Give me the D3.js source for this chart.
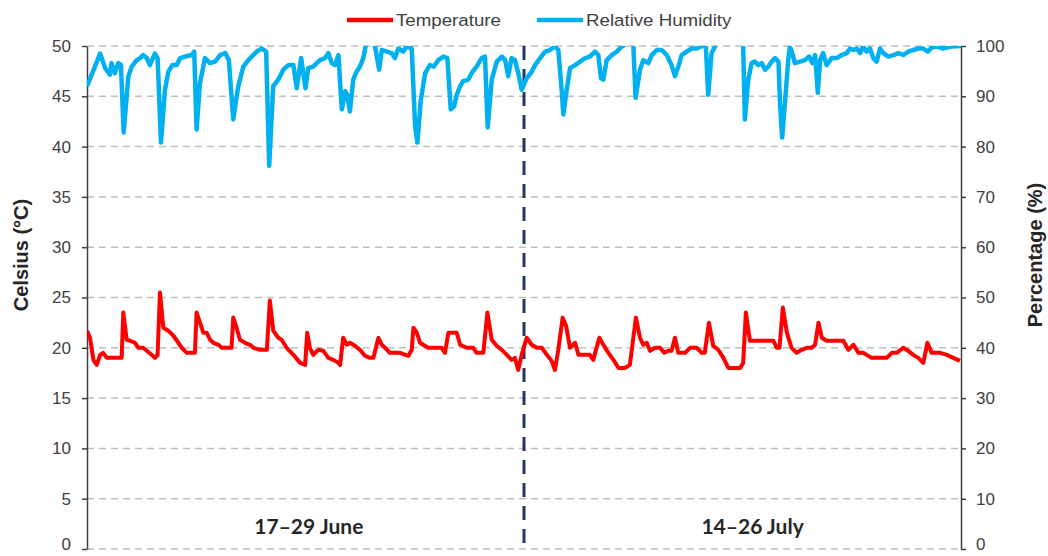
<!DOCTYPE html>
<html>
<head>
<meta charset="utf-8">
<script src="https://cdn.jsdelivr.net/npm/d3@7"></script>
<style>
  html, body { margin:0; padding:0; background:#fff; }
  svg { display:block; }
  .tick-lbl { font: 17px "Liberation Sans", Arial, sans-serif; fill:#404040; }
  .ax-title { font: bold 20px "Liberation Sans", Arial, sans-serif; fill:#262626; }
  .legend   { font: 17px "Liberation Sans", Arial, sans-serif; fill:#404040; }
  .period   { font: bold 21px Lato, "Open Sans", sans-serif; fill:#262626; }
</style>
</head>
<body>
<svg id="chart" width="1048" height="556"></svg>
<script>
(function(){
'use strict';

/* ------------------------------------------------------------------ data */
// Time runs in days from the first reading; the two logging periods
// (13 days each) are placed back to back, July starting at day 13.
var SERIES  = ['Temperature', 'Relative Humidity'];
var PERIODS = ['17–29 June', '14–26 July'];
var CELSIUS_TICKS = [0, 5, 10, 15, 20, 25, 30, 35, 40, 45, 50];
var PERCENT_TICKS = [0, 10, 20, 30, 40, 50, 60, 70, 80, 90, 100];

// [day, °C]
var TEMPERATURE = [
  [0,21.7],[0.09,21],[0.19,18.8],[0.29,18.3],[0.39,19.3],[0.48,19.5],[0.59,19],[1.03,19],
  [1.08,23.5],[1.18,20.8],[1.28,20.7],[1.43,20.5],[1.53,20],[1.67,20],[1.78,19.7],[1.92,19.3],
  [2.02,19],[2.10,19.3],[2.17,25.5],[2.27,22],[2.42,21.7],[2.57,21.2],[2.72,20.5],[2.82,20],
  [2.97,19.5],[3.21,19.5],[3.26,23.5],[3.36,22.5],[3.46,21.5],[3.56,21.5],[3.66,20.8],[3.76,20.5],
  [3.91,20.3],[4.01,20],[4.30,20],[4.35,23],[4.45,22],[4.55,20.8],[4.70,20.5],[4.85,20.3],
  [4.95,20],[5.15,19.8],[5.35,19.8],[5.44,24.7],[5.54,21.7],[5.69,21],[5.79,20.8],[5.94,20],
  [6.14,19.3],[6.34,18.5],[6.49,18.3],[6.55,21.5],[6.63,20],[6.73,19.3],[6.88,19.8],[7.03,19.7],
  [7.18,19],[7.33,18.8],[7.48,18.5],[7.53,18.3],[7.62,21],[7.73,20.3],[7.82,20.5],[7.97,20.2],
  [8.12,19.8],[8.27,19.2],[8.42,19],[8.52,19],[8.67,21],[8.77,20.3],[8.87,20],[9.01,19.5],
  [9.31,19.5],[9.56,19.2],[9.66,19.8],[9.71,22],[9.81,21.5],[9.91,20.5],[10.00,20.3],[10.15,20],
  [10.55,20],[10.65,19.5],[10.75,21.5],[11.00,21.5],[11.10,20.3],[11.30,20],[11.49,20],[11.59,19.5],
  [11.79,19.5],[11.91,23.5],[12.04,20.8],[12.19,20.2],[12.34,19.8],[12.49,19.3],[12.63,18.8],[12.73,19],
  [12.83,17.8],[12.93,19.3],
  [13.08,21],[13.23,20.3],[13.38,20],[13.53,20],[13.68,19.3],[13.82,18.7],[13.92,17.8],[14.02,19.8],
  [14.15,23],[14.25,22.2],[14.37,20],[14.52,20.5],[14.62,19.3],[14.96,19.3],[15.06,18.8],[15.24,21],
  [15.36,20.3],[15.51,19.5],[15.66,18.8],[15.81,18],[16.00,18],[16.15,18.3],[16.33,23],[16.45,21],
  [16.55,20.3],[16.65,20.5],[16.75,19.7],[16.90,20],[17.05,20],[17.17,19.5],[17.29,19.7],[17.39,19.7],
  [17.49,21],[17.59,19.5],[17.79,19.5],[17.94,20],[18.14,20],[18.29,19.5],[18.38,19.5],[18.50,22.5],
  [18.63,20.2],[18.78,19.8],[18.93,19],[19.08,18],[19.43,18],[19.52,18.5],[19.60,23.5],[19.72,20.7],
  [20.42,20.7],[20.52,20],[20.60,20],[20.70,24],[20.82,21.5],[20.96,20],[21.11,19.5],[21.26,19.8],
  [21.41,20],[21.56,20],[21.66,20.3],[21.76,22.5],[21.86,21],[22.00,20.7],[22.50,20.7],[22.65,19.8],
  [22.80,20.3],[22.95,19.5],[23.09,19.5],[23.34,19],[23.79,19],[23.94,19.5],[24.09,19.5],[24.28,20],
  [24.43,19.7],[24.58,19.3],[24.73,19],[24.88,18.5],[25.00,20.5],[25.13,19.5],[25.38,19.5],[25.58,19.3],
  [25.77,19],[25.97,18.7]
];

// [day, %]. Readings above 100 are cut by the plot edge, as in the original.
var HUMIDITY = [
  [0,92],[0.39,98.5],[0.54,95.6],[0.68,94.3],[0.73,96.6],[0.83,94.6],[0.93,96.6],[1.01,96.2],
  [1.09,82.8],[1.23,94],[1.33,95.9],[1.48,97.2],[1.58,97.6],[1.67,98.2],[1.78,97.6],[1.87,96.2],
  [2.02,98.5],[2.10,97.6],[2.20,80.8],[2.32,91.3],[2.42,94.9],[2.54,96.2],[2.67,96.2],[2.77,97.6],
  [2.92,97.9],[3.11,98.2],[3.19,98.9],[3.26,83.4],[3.36,92.6],[3.51,97.6],[3.66,96.6],[3.81,96.9],
  [3.96,98.2],[4.11,98.6],[4.22,97.2],[4.35,85.4],[4.50,92],[4.65,95.9],[4.80,97.2],[4.90,97.9],
  [5.05,98.9],[5.20,99.5],[5.33,98.9],[5.42,76.2],[5.54,92],[5.69,93.3],[5.84,95.3],[5.99,96.2],
  [6.14,96.2],[6.24,91.6],[6.37,97.6],[6.50,91.6],[6.58,95.6],[6.73,95.9],[6.93,97.2],[7.08,97.6],
  [7.18,98.6],[7.28,96.6],[7.38,96.2],[7.48,98.2],[7.58,87.4],[7.68,91],[7.74,90.3],[7.82,87],
  [7.92,93.3],[8.02,94.9],[8.12,95.9],[8.22,97.6],[8.32,101],[8.47,101],[8.57,99.9],[8.69,95.3],
  [8.77,99.2],[8.92,98.9],[9.06,98.6],[9.16,97.6],[9.26,99.5],[9.41,98.9],[9.51,99.9],[9.66,99.5],
  [9.76,84.1],[9.83,80.8],[9.93,89.3],[10.06,94.6],[10.20,96.2],[10.32,95.9],[10.45,97.2],[10.60,97.9],
  [10.72,97.6],[10.82,87.4],[10.92,88],[11.00,90.3],[11.10,92],[11.19,93],[11.34,93.3],[11.44,94.6],
  [11.59,95.9],[11.74,97.6],[11.84,97.9],[11.92,83.8],[12.04,93.3],[12.19,96.9],[12.34,97.9],[12.44,97.2],
  [12.53,94],[12.63,97.6],[12.73,97.2],[12.83,94.6],[12.93,91.3],
  [13.08,93.6],[13.13,94],[13.23,94.9],[13.33,96.2],[13.48,97.6],[13.63,98.9],[13.77,99.2],[13.92,99.9],
  [14.02,99.2],[14.12,91.3],[14.17,86.4],[14.27,91.3],[14.37,95.6],[14.52,96.2],[14.67,96.9],[14.82,97.6],
  [14.96,97.9],[15.11,98.9],[15.21,98.2],[15.29,93.6],[15.36,93.3],[15.46,97.2],[15.61,98.2],[15.76,98.9],
  [15.91,99.9],[16.06,100.5],[16.25,100.5],[16.32,89.7],[16.45,95.3],[16.55,97.2],[16.70,96.6],[16.80,98.2],
  [16.95,99.2],[17.10,99.2],[17.25,98.2],[17.39,96.2],[17.49,94],[17.59,95.9],[17.69,98.2],[17.84,98.9],
  [17.99,99.5],[18.14,99.5],[18.29,100],[18.41,99.9],[18.48,90.3],[18.58,98.6],[18.73,100.5],[18.93,101],
  [19.22,101],[19.46,101],[19.52,100],[19.57,85.4],[19.67,93.3],[19.77,96.6],[19.87,96.9],[19.97,96.2],
  [20.07,96.6],[20.17,95.3],[20.27,95.9],[20.37,96.9],[20.47,97.6],[20.57,96.9],[20.62,88],[20.68,81.8],
  [20.77,89.3],[20.86,97.2],[20.91,99.9],[20.98,98.6],[21.06,96.6],[21.21,96.9],[21.36,97.2],[21.48,97.9],
  [21.58,96.6],[21.66,98.2],[21.74,90.7],[21.81,97.2],[21.90,98.6],[22.00,96.2],[22.15,97.6],[22.30,97.6],
  [22.45,98.2],[22.60,98.6],[22.70,99.5],[22.80,99.2],[22.90,99.5],[23.00,98.6],[23.09,99.9],[23.19,98.9],
  [23.29,99.5],[23.39,97.6],[23.49,96.9],[23.59,99.5],[23.69,98.6],[23.84,97.9],[23.99,98.2],[24.14,98.6],
  [24.28,98.2],[24.43,98.9],[24.58,99.2],[24.73,99.5],[24.88,99.5],[25.01,98.9],[25.13,99.7],[25.28,99.9],
  [25.43,99.5],[25.58,99.7],[25.72,99.9],[26.00,100]
];

/* ---------------------------------------------------------------- layout */
var W = 1048, H = 556;
var M = { left:87, right:W-961, top:46, bottom:H-549 };
var RED = '#ff0000', BLUE = '#00b0f0', NAVY = '#1f3864', AXIS = '#404040', GRID = '#bfbfbf';

var svg = d3.select('#chart');
var x  = d3.scaleLinear([0, 26], [M.left, W - M.right]);
var yL = d3.scaleLinear([0, 50], [H - M.bottom, M.top]);
var yR = d3.scaleLinear([0, 100], [H - M.bottom, M.top]);

svg.append('clipPath').attr('id','plot-clip').append('rect')
    .attr('x', M.left).attr('y', M.top)
    .attr('width', x.range()[1] - M.left).attr('height', yL(0) - M.top);

/* ------------------------------------------------------------------ grid */
svg.append('g').selectAll('line').data(CELSIUS_TICKS).join('line')
    .attr('x1', M.left).attr('x2', x.range()[1])
    .attr('y1', function(d){ return yL(d); }).attr('y2', function(d){ return yL(d); })
    .attr('stroke', GRID).attr('stroke-width', 1.5).attr('stroke-dasharray', '7 5');

/* ------------------------------------------------------------------ axes */
// The zero labels sit at the very bottom of the image; nudge them up so the
// glyphs stay inside the frame.
function styleAxis(g){
    g.select('.domain').attr('stroke', AXIS).attr('stroke-width', 1.5);
    g.selectAll('.tick line').attr('stroke', AXIS).attr('stroke-width', 1.5);
    g.selectAll('.tick text').attr('class', 'tick-lbl').attr('fill', null)
        .attr('dy', function(d){ return d === 0 ? '0.05em' : '0.32em'; });
}
svg.append('g').attr('transform', 'translate(' + M.left + ',0)')
    .call(d3.axisLeft(yL).tickValues(CELSIUS_TICKS).tickSize(5).tickSizeOuter(0).tickPadding(11))
    .call(styleAxis);
svg.append('g').attr('transform', 'translate(' + x.range()[1] + ',0)')
    .call(d3.axisRight(yR).tickValues(PERCENT_TICKS).tickSize(5).tickSizeOuter(0).tickPadding(10))
    .call(styleAxis);

svg.append('text').attr('class','ax-title')
    .attr('transform','translate(28,255) rotate(-90)').attr('text-anchor','middle')
    .text('Celsius (°C)');
svg.append('text').attr('class','ax-title')
    .attr('transform','translate(1042,255) rotate(-90)').attr('text-anchor','middle')
    .text('Percentage (%)');

/* ---------------------------------------------------- period separator */
svg.append('line')
    .attr('x1', x(13)).attr('x2', x(13)).attr('y1', M.top).attr('y2', yL(0))
    .attr('stroke', NAVY).attr('stroke-width', 3).attr('stroke-dasharray', '14 9');

var PERIOD_AT = [6.6, 19.8];   // label centres, in days
svg.append('g').selectAll('text').data(PERIODS).join('text')
    .attr('class','period').attr('text-anchor','middle')
    .attr('x', function(d,i){ return x(PERIOD_AT[i]); })
    .attr('y', 534)
    .text(function(d){ return d; });

/* ---------------------------------------------------------------- series */
var plot = svg.append('g').attr('clip-path','url(#plot-clip)');
plot.append('path').datum(HUMIDITY)
    .attr('d', d3.line().x(function(d){ return x(d[0]); }).y(function(d){ return yR(d[1]); }))
    .attr('fill','none').attr('stroke', BLUE).attr('stroke-width', 4.5).attr('stroke-linejoin','round');
plot.append('path').datum(TEMPERATURE)
    .attr('d', d3.line().x(function(d){ return x(d[0]); }).y(function(d){ return yL(d[1]); }))
    .attr('fill','none').attr('stroke', RED).attr('stroke-width', 4).attr('stroke-linejoin','round');

/* ---------------------------------------------------------------- legend */
// The source image is slightly stretched sideways; the legend text follows it.
var LEG = [{ x:347, c:RED }, { x:537, c:BLUE }];
var lg = svg.append('g').selectAll('g').data(SERIES).join('g')
    .attr('transform', function(d,i){ return 'translate(' + LEG[i].x + ',20)'; });
lg.append('line').attr('x1',0).attr('x2',46).attr('y1',0).attr('y2',0)
    .attr('stroke', function(d,i){ return LEG[i].c; }).attr('stroke-width', 4.5);
lg.append('text').attr('class','legend')
    .attr('transform','translate(49,6) scale(1.1,1)')
    .text(function(d){ return d; });
})();
</script>
</body>
</html>
